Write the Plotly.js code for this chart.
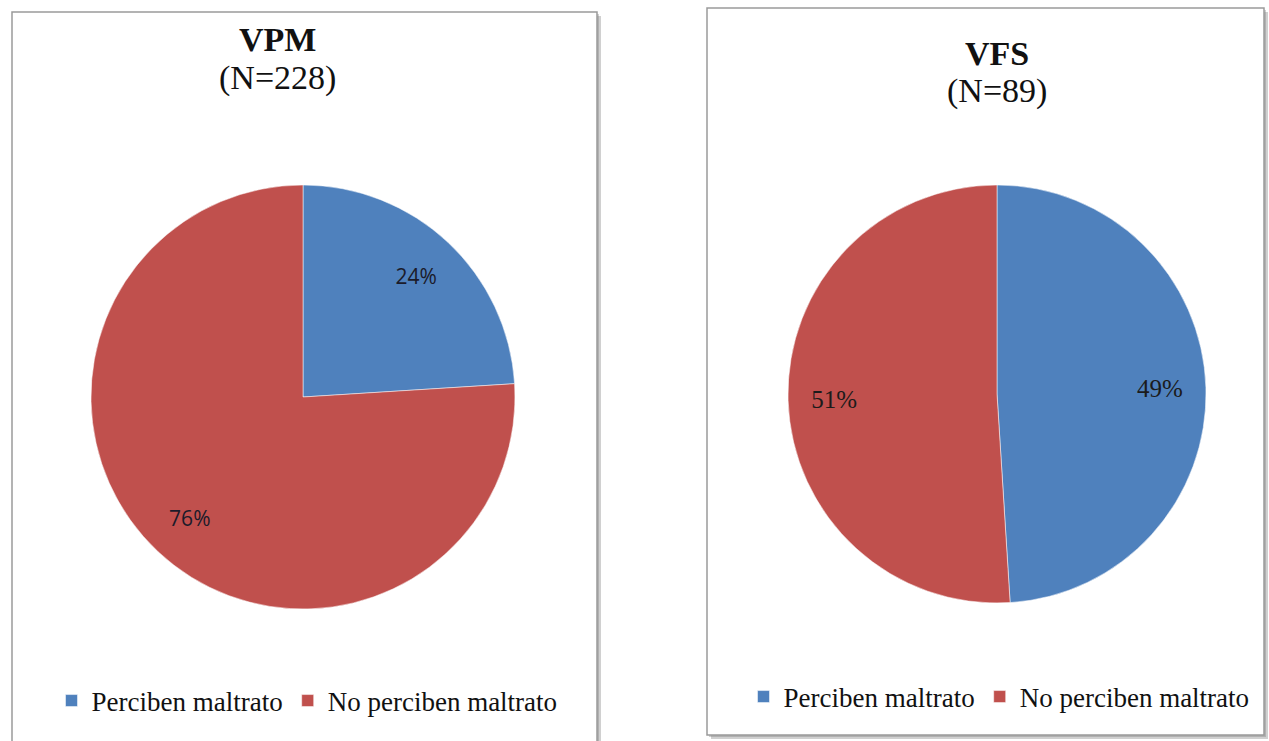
<!DOCTYPE html>
<html>
<head>
<meta charset="utf-8">
<script src="https://cdn.plot.ly/plotly-3.0.1.min.js"></script>
<style>html,body{margin:0;padding:0;background:#fff;}#chart{width:1269px;height:741px;}</style>
</head>
<body>
<div id="chart"></div>
<script>
// ---- data ----
const categories = ["Perciben maltrato", "No perciben maltrato"];
const vpmValues = [24, 76];
const vfsValues = [49, 51];
const vpmTitle = ["VPM", "(N=228)"];
const vfsTitle = ["VFS", "(N=89)"];
const sliceColors = ["#4F81BD", "#C0504D"];

const W = 1269, H = 741;
const px = x => x / W;
const py = y => 1 - y / H;

function panel(x0, y0, x1, y1) {
  return [
    {type: "rect", xref: "paper", yref: "paper", layer: "below",
     x0: px(x0 + 4), x1: px(x1 + 4), y0: py(y1 + 4), y1: py(y0 + 4),
     fillcolor: "rgba(120,120,120,0.35)", line: {width: 0}},
    {type: "rect", xref: "paper", yref: "paper", layer: "below",
     x0: px(x0 + 2), x1: px(x1 + 2), y0: py(y1 + 2), y1: py(y0 + 2),
     fillcolor: "rgba(120,120,120,0.35)", line: {width: 0}},
    {type: "rect", xref: "paper", yref: "paper", layer: "below",
     x0: px(x0), x1: px(x1), y0: py(y1), y1: py(y0),
     fillcolor: "#ffffff", line: {color: "#9a9a9a", width: 1.5}}
  ];
}

// second chart gets its own (invisibly distinct) labels so it gets its own legend
const categories2 = categories.map(c => c + "\u200b");

function pieBase(labels, values, domain, legend) {
  return {
    type: "pie", labels: labels, values: values,
    sort: false, direction: "clockwise", rotation: 0,
    marker: {colors: sliceColors, line: {color: "rgba(255,255,255,0.5)", width: 1}},
    textinfo: "none", textposition: "none",
    domain: domain, hoverinfo: "label+percent", legend: legend
  };
}
// transparent ring overlay that carries the percent labels at Excel-like radius
function pieLabels(labels, values, domain, font) {
  return {
    type: "pie", labels: labels, values: values,
    sort: false, direction: "clockwise", rotation: 0, hole: 0.56,
    marker: {colors: ["rgba(0,0,0,0)", "rgba(0,0,0,0)"], line: {width: 0}},
    texttemplate: "%{value}%", textposition: "inside", insidetextorientation: "horizontal",
    textfont: font, domain: domain, showlegend: false, hoverinfo: "skip"
  };
}

const dom1 = {x: [px(91), px(515)], y: [py(609), py(185)]};
const dom2 = {x: [px(788), px(1206)], y: [py(603), py(185)]};
const font1 = {family: "Open Sans, Liberation Sans, sans-serif", size: 21, color: "#1b1b2a"};
const font2 = {family: "Liberation Serif, Times New Roman, serif", size: 25, color: "#1b1b1b"};

const traces = [
  pieBase(categories, vpmValues, dom1, "legend"),
  pieBase(categories2, vfsValues, dom2, "legend2"),
  pieLabels(categories, vpmValues, dom1, font1),
  pieLabels(categories2, vfsValues, dom2, font2)
];

const legendFont = {family: "Liberation Serif, Times New Roman, serif", size: 27, color: "#111"};
const titleBold = {family: "Liberation Serif, Times New Roman, serif", size: 34, color: "#111"};
const titleReg = {family: "Liberation Serif, Times New Roman, serif", size: 34, color: "#111"};

function titleAnn(x, yTop, lines) {
  return [
    {xref: "paper", yref: "paper", x: px(x), y: py(yTop), xanchor: "center", yanchor: "middle",
     showarrow: false, text: "<b>" + lines[0] + "</b>", font: titleBold},
    {xref: "paper", yref: "paper", x: px(x), y: py(yTop + 38), xanchor: "center", yanchor: "middle",
     showarrow: false, text: lines[1], font: titleReg}
  ];
}

const layout = {
  width: W, height: H,
  margin: {l: 0, r: 0, t: 0, b: 0},
  paper_bgcolor: "#fff",
  showlegend: true,
  legend: {orientation: "h", x: px(307), xanchor: "center", y: py(701), yanchor: "middle",
           font: legendFont, bgcolor: "rgba(0,0,0,0)", traceorder: "normal"},
  legend2: {orientation: "h", x: px(999), xanchor: "center", y: py(697), yanchor: "middle",
            font: legendFont, bgcolor: "rgba(0,0,0,0)", traceorder: "normal"},
  shapes: [].concat(panel(12, 12, 597, 750), panel(707, 8, 1264, 735)),
  annotations: [].concat(titleAnn(277, 40, vpmTitle), titleAnn(997, 53, vfsTitle))
};

Plotly.newPlot("chart", traces, layout, {displayModeBar: false, staticPlot: true});
</script>
</body>
</html>
